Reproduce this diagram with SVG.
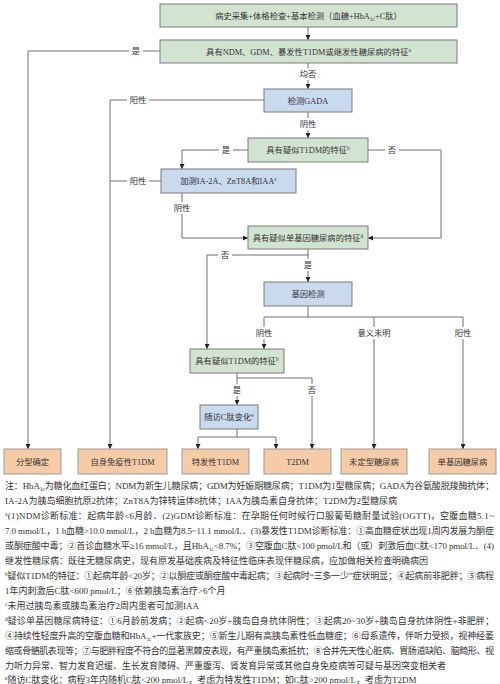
<svg xmlns="http://www.w3.org/2000/svg" width="500" height="684" viewBox="0 0 500 684">
<style>
text{font-family:"Liberation Serif","Noto Sans CJK SC",serif;fill:#333}
.g{fill:#d3e3d2;stroke:#7a7a7a;stroke-width:1}
.b{fill:#c9d9ee;stroke:#7a7a7a;stroke-width:1}
.o{fill:#f6cba7;stroke:#9a9a9a;stroke-width:1}
.t{font-size:8.3px;text-anchor:middle}
.c line,.c polyline{fill:none;stroke:#707070;stroke-width:1}
.lb{font-size:8.3px;text-anchor:middle}
.bg{fill:#fff}
.fn{font-size:9px}
.s{font-size:5.5px}
</style>
<defs>
<marker id="ar" viewBox="0 0 8 8" refX="8" refY="4" markerWidth="5" markerHeight="5" orient="auto" markerUnits="userSpaceOnUse">
<path d="M0,0 L8,4 L0,8 z" fill="#222"/>
</marker>
</defs>
<g class="c" id="connectors">
<line x1="308" y1="27" x2="308" y2="40" marker-end="url(#ar)"/>
<polyline points="160,51 28,51 28,449" marker-end="url(#ar)"/>
<line x1="308" y1="63" x2="308" y2="89" marker-end="url(#ar)"/>
<polyline points="264,100 110,100 110,449" marker-end="url(#ar)"/>
<line x1="308" y1="112" x2="308" y2="138" marker-end="url(#ar)"/>
<polyline points="248,150 182,150 182,169" marker-end="url(#ar)"/>
<polyline points="368,150 441,150 441,238 368,238" marker-end="url(#ar)"/>
<line x1="161" y1="181" x2="110" y2="181"/>
<polyline points="182,193 182,238 248,238" marker-end="url(#ar)"/>
<line x1="308" y1="249" x2="308" y2="282" marker-end="url(#ar)"/>
<polyline points="308,255 207,255 207,349" marker-end="url(#ar)"/>
<line x1="308" y1="306" x2="308" y2="317"/>
<line x1="264" y1="317" x2="463" y2="317"/>
<line x1="264" y1="317" x2="264" y2="349" marker-end="url(#ar)"/>
<line x1="374" y1="317" x2="374" y2="449" marker-end="url(#ar)"/>
<line x1="463" y1="317" x2="463" y2="449" marker-end="url(#ar)"/>
<line x1="237" y1="373" x2="237" y2="405" marker-end="url(#ar)"/>
<polyline points="237,378 312,378 312,449" marker-end="url(#ar)"/>
<line x1="237" y1="429" x2="237" y2="437"/>
<line x1="198" y1="437" x2="276" y2="437"/>
<line x1="198" y1="437" x2="198" y2="449" marker-end="url(#ar)"/>
<line x1="276" y1="437" x2="276" y2="449" marker-end="url(#ar)"/>
<g id="edge-labels">
<rect class="bg" x="129" y="45" width="14" height="12"/><text class="lb" x="136" y="54">是</text>
<rect class="bg" x="127" y="94" width="22" height="12"/><text class="lb" x="138" y="103">阳性</text>
<rect class="bg" x="298" y="68" width="20" height="12"/><text class="lb" x="308" y="77">均否</text>
<rect class="bg" x="298" y="118" width="20" height="12"/><text class="lb" x="308" y="127">阴性</text>
<rect class="bg" x="219" y="144" width="14" height="12"/><text class="lb" x="226" y="153">是</text>
<rect class="bg" x="385" y="144" width="14" height="12"/><text class="lb" x="392" y="153">否</text>
<rect class="bg" x="127" y="175" width="22" height="12"/><text class="lb" x="138" y="184">阳性</text>
<rect class="bg" x="172" y="202" width="20" height="12"/><text class="lb" x="182" y="211">阴性</text>
<rect class="bg" x="218" y="249" width="14" height="12"/><text class="lb" x="225" y="258">否</text>
<rect class="bg" x="301" y="259" width="14" height="12"/><text class="lb" x="308" y="268">是</text>
<rect class="bg" x="254" y="327" width="20" height="12"/><text class="lb" x="264" y="336">阴性</text>
<rect class="bg" x="356" y="327" width="36" height="12"/><text class="lb" x="374" y="336">意义未明</text>
<rect class="bg" x="453" y="327" width="20" height="12"/><text class="lb" x="463" y="336">阳性</text>
<rect class="bg" x="230" y="384" width="14" height="12"/><text class="lb" x="237" y="393">是</text>
<rect class="bg" x="305" y="384" width="14" height="12"/><text class="lb" x="312" y="393">否</text>
</g>
</g>
<g id="n1"><rect class="g" x="160" y="4" width="297" height="23"/><text class="t" x="308.5" y="18.5">病史采集+体格检查+基本检测（血糖+HbA<tspan class="s" dy="2">1c</tspan><tspan dy="-2">+C肽）</tspan></text></g>
<g id="n2"><rect class="g" x="160" y="40" width="297" height="23"/><text class="t" x="308.5" y="54.5">具有NDM、GDM、暴发性T1DM或继发性糖尿病的特征<tspan class="s" dy="-3">a</tspan></text></g>
<g id="n3"><rect class="b" x="264" y="89" width="88" height="23"/><text class="t" x="308" y="103.5">检测GADA</text></g>
<g id="n4"><rect class="g" x="248" y="138" width="120" height="24"/><text class="t" x="308" y="153">具有疑似T1DM的特征<tspan class="s" dy="-3">b</tspan></text></g>
<g id="n5"><rect class="b" x="161" y="169" width="135" height="24"/><text class="t" x="228.5" y="184">加测IA-2A、ZnT8A和IAA<tspan class="s" dy="-3">c</tspan></text></g>
<g id="n6"><rect class="g" x="248" y="226" width="120" height="23"/><text class="t" x="308" y="240.5">具有疑似单基因糖尿病的特征<tspan class="s" dy="-3">d</tspan></text></g>
<g id="n7"><rect class="b" x="264" y="282" width="88" height="24"/><text class="t" x="308" y="297">基因检测</text></g>
<g id="n8"><rect class="g" x="190" y="349" width="94" height="24"/><text class="t" x="237" y="364">具有疑似T1DM的特征<tspan class="s" dy="-3">b</tspan></text></g>
<g id="n9"><rect class="b" x="200" y="405" width="58" height="24"/><text class="t" x="229" y="420">随访C肽变化<tspan class="s" dy="-3">e</tspan></text></g>
<g id="n10"><rect class="o" x="4" y="449" width="57" height="25"/><text class="t" x="32.5" y="464.5">分型确定</text></g>
<g id="n11"><rect class="o" x="78" y="449" width="89" height="25"/><text class="t" x="122.5" y="464.5">自身免疫性T1DM</text></g>
<g id="n12"><rect class="o" x="182" y="449" width="67" height="25"/><text class="t" x="215.5" y="464.5">特发性T1DM</text></g>
<g id="n13"><rect class="o" x="264" y="449" width="67" height="25"/><text class="t" x="297.5" y="464.5">T2DM</text></g>
<g id="n14"><rect class="o" x="341" y="449" width="66" height="25"/><text class="t" x="374" y="464.5">未定型糖尿病</text></g>
<g id="n15"><rect class="o" x="429" y="449" width="67" height="25"/><text class="t" x="462.5" y="464.5">单基因糖尿病</text></g>
<g id="notes">
<text class="fn" x="5" y="488.5" textLength="489">注：HbA<tspan class="s" dy="2">1c</tspan><tspan dy="-2">为糖化血红蛋白；NDM为新生儿糖尿病；GDM为妊娠期糖尿病；T1DM为1型糖尿病；GADA为谷氨酸脱羧酶抗体；</tspan></text>
<text class="fn" x="5" y="503.5">IA-2A为胰岛细胞抗原2抗体；ZnT8A为锌转运体8抗体；IAA为胰岛素自身抗体；T2DM为2型糖尿病</text>
<text class="fn" x="5" y="518.5" textLength="489"><tspan class="s" dy="-3">a</tspan><tspan dy="3">(1)NDM诊断标准：起病年龄&lt;6月龄．(2)GDM诊断标准：在孕期任何时候行口服葡萄糖耐量试验(OGTT)，空腹血糖5.1~</tspan></text>
<text class="fn" x="5" y="533.5" textLength="489">7.0 mmol/L，1 h血糖&gt;10.0 mmol/L，2 h血糖为8.5~11.1 mmol/L．(3)暴发性T1DM诊断标准：①高血糖症状出现1周内发展为酮症</text>
<text class="fn" x="5" y="548.5" textLength="489">或酮症酸中毒；②首诊血糖水平≥16 mmol/L，且HbA<tspan class="s" dy="2">1c</tspan><tspan dy="-2">&lt;8.7%；③空腹血C肽&lt;100 pmol/L和（或）刺激后血C肽&lt;170 pmol/L．(4)</tspan></text>
<text class="fn" x="5" y="563.5">继发性糖尿病：既往无糖尿病史，现有原发基础疾病及特征性临床表现伴糖尿病，应加做相关检查明确病因</text>
<text class="fn" x="5" y="578.5" textLength="489"><tspan class="s" dy="-3">b</tspan><tspan dy="3">疑似T1DM的特征：①起病年龄&lt;20岁；②以酮症或酮症酸中毒起病；③起病时“三多一少”症状明显；④起病前非肥胖；⑤病程</tspan></text>
<text class="fn" x="5" y="593.5">1年内刺激后C肽&lt;600 pmol/L；⑥依赖胰岛素治疗&gt;6个月</text>
<text class="fn" x="5" y="608.5"><tspan class="s" dy="-3">c</tspan><tspan dy="3">未用过胰岛素或胰岛素治疗2周内患者可加测IAA</tspan></text>
<text class="fn" x="5" y="623.5" textLength="489"><tspan class="s" dy="-3">d</tspan><tspan dy="3">疑诊单基因糖尿病特征：①6月龄前发病；②起病&lt;20岁+胰岛自身抗体阴性；③起病20~30岁+胰岛自身抗体阴性+非肥胖；</tspan></text>
<text class="fn" x="5" y="638.5" textLength="489">④持续性轻度升高的空腹血糖和HbA<tspan class="s" dy="2">1c</tspan><tspan dy="-2">+一代家族史；⑤新生儿期有高胰岛素性低血糖症；⑥母系遗传，伴听力受损，视神经萎</tspan></text>
<text class="fn" x="5" y="653.5" textLength="489">缩或骨骼肌表现等；⑦与肥胖程度不符合的显著黑棘皮表现，有严重胰岛素抵抗；⑧合并先天性心脏病、胃肠道缺陷、脑畸形、视</text>
<text class="fn" x="5" y="668.5">力听力异常、智力发育迟缓、生长发育障碍、严重腹泻、肾发育异常或其他自身免疫病等可疑与基因突变相关者</text>
<text class="fn" x="5" y="683"><tspan class="s" dy="-3">e</tspan><tspan dy="3">随访C肽变化：病程3年内随机C肽&lt;200 pmol/L，考虑为特发性T1DM；如C肽&gt;200 pmol/L，考虑为T2DM</tspan></text>
</g>
</svg>
